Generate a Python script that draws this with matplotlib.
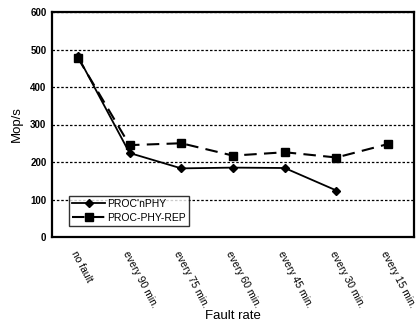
import matplotlib
matplotlib.use("Agg")
import matplotlib.pyplot as plt

plt.rcParams['font.family'] = ['Liberation Sans', 'DejaVu Sans']

categorias = ["no fault", "every 90 min.", "every 75 min.", "every 60 min.",
              "every 45 min.", "every 30 min.", "every 15 min."]
proc_nphy = [482, 224, 183, 185, 184, 124]
proc_phy_rep = [478, 245, 250, 217, 226, 212, 248]

fig = plt.figure(figsize=(4.2, 3.26), dpi=100)
ax = fig.add_axes([52/420, 1 - 237/326, 362/420, 225/326])

x1 = list(range(len(proc_nphy)))
x2 = list(range(len(proc_phy_rep)))
ax.plot(x1, proc_nphy, color='black', lw=1.3, marker='D', markersize=4.5,
        label="PROC'nPHY")
ax.plot(x2, proc_phy_rep, color='black', lw=1.5, dashes=(6, 3.5), marker='s',
        markersize=6, label="PROC-PHY-REP")

ax.set_xlim(-0.5, len(categorias) - 0.5)
ax.set_ylim(0, 600)
ax.set_yticks(range(0, 601, 100))
ax.set_xticks(range(len(categorias)))
ax.set_xticklabels(categorias, rotation=-62, ha='left', va='top',
                   rotation_mode='anchor', fontsize=7.5)
ax.tick_params(axis='x', length=0, pad=9)
ax.tick_params(axis='y', length=0, labelsize=7, pad=4)
for t in ax.get_yticklabels():
    t.set_fontweight('bold')
ax.yaxis.grid(True, color='black', ls=(0, (2, 1.5)), lw=0.9)
for s in ax.spines.values():
    s.set_linewidth(1.6)

ax.set_ylabel("Mop/s", fontsize=9.5, labelpad=5)
ax.set_xlabel("Fault rate", fontsize=9.5)
ax.xaxis.set_label_coords(0.5, -0.325)

leg = ax.legend(loc='lower left', bbox_to_anchor=(0.047, 0.05), fontsize=7.5,
                frameon=True, fancybox=False, edgecolor='black',
                handlelength=3.2, handletextpad=0.2, borderpad=0.3,
                labelspacing=0.35, borderaxespad=0)
leg.get_frame().set_linewidth(1.0)

fig.savefig("out.png", dpi=100)
